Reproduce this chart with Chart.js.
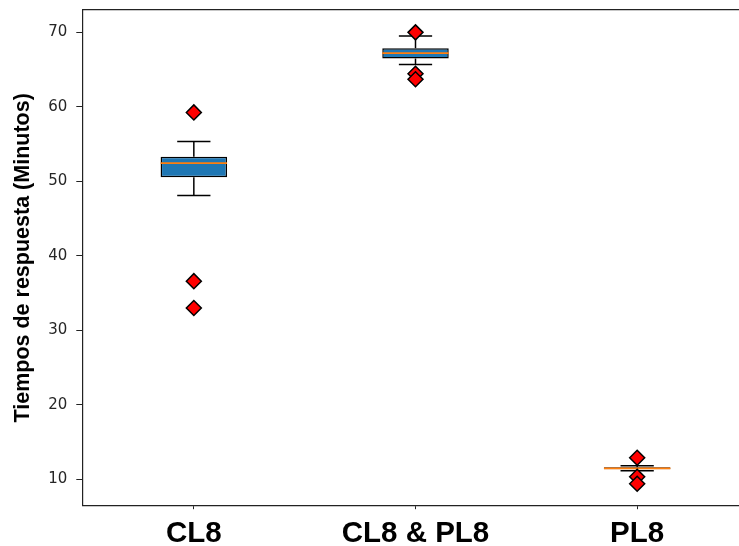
<!DOCTYPE html>
<html>
<head>
<meta charset="utf-8">
<script src="https://cdn.jsdelivr.net/npm/chart.js@4.4.0/dist/chart.umd.min.js"></script>
<style>
  html, body { margin: 0; padding: 0; overflow: hidden; background: #fff; }
  canvas { display: block; }
</style>
</head>
<body>
<canvas id="chart" width="760" height="546"></canvas>
<script>
// Response times per configuration (minutes)
const groups = ['CL8', 'CL8 & PL8', 'PL8'];
const positions = [1, 2, 3];
const whiskerLow = [48.1, 65.7, 11.15];
const quartile1 = [50.55, 66.5, 11.35];
const medians = [52.45, 67.2, 11.48];
const quartile3 = [53.3, 67.85, 11.62];
const whiskerHigh = [55.35, 69.5, 11.82];
const outliers = [
  [59.25, 36.6, 33.0],
  [70.0, 64.45, 63.7],
  [12.9, 10.35, 9.4]
];
const yTicks = [10, 20, 30, 40, 50, 60, 70];

const BOX_HALF = 0.15;   // half box width, in x units
const CAP_HALF = 0.075;  // half whisker-cap width, in x units
const GAP = { x: NaN, y: null };

const boxData = positions.map((p, i) => ({ x: p, y: [quartile1[i], quartile3[i]] }));

const whiskerData = [];
const capData = [];
const medianData = [];
positions.forEach((p, i) => {
  whiskerData.push({ x: p, y: quartile1[i] }, { x: p, y: whiskerLow[i] }, GAP,
                   { x: p, y: quartile3[i] }, { x: p, y: whiskerHigh[i] }, GAP);
  capData.push({ x: p - CAP_HALF, y: whiskerLow[i] }, { x: p + CAP_HALF, y: whiskerLow[i] }, GAP,
               { x: p - CAP_HALF, y: whiskerHigh[i] }, { x: p + CAP_HALF, y: whiskerHigh[i] }, GAP);
  medianData.push({ x: p - BOX_HALF, y: medians[i] }, { x: p + BOX_HALF, y: medians[i] }, GAP);
});

const outlierData = [];
positions.forEach((p, i) => outliers[i].forEach(v => outlierData.push({ x: p, y: v })));

const lineStyle = {
  type: 'line',
  showLine: true,
  pointRadius: 0,
  fill: false,
  tension: 0,
  spanGaps: false,
  borderColor: '#000',
  borderWidth: 1.5,
  borderCapStyle: 'butt'
};

const noEdgePadding = s => { s.paddingTop = 0; s.paddingBottom = 0; s.paddingLeft = 0; s.paddingRight = 0; };

new Chart(document.getElementById('chart'), {
  type: 'bar',
  data: {
    datasets: [
      {
        type: 'scatter',
        data: outlierData,
        pointStyle: 'rectRot',
        pointRadius: 7.5,
        backgroundColor: '#ff0000',
        borderColor: '#000',
        borderWidth: 1.5,
        order: 0
      },
      Object.assign({}, lineStyle, { data: capData, order: 1 }),
      Object.assign({}, lineStyle, { data: medianData, borderColor: '#ff7f0e', borderWidth: 1.8, order: 2 }),
      Object.assign({}, lineStyle, { data: whiskerData, order: 3 }),
      {
        type: 'bar',
        data: boxData,
        backgroundColor: '#1f77b4',
        borderColor: '#000',
        borderWidth: 1.5,
        borderSkipped: false,
        barPercentage: 0.3,
        categoryPercentage: 1,
        order: 4
      }
    ]
  },
  options: {
    responsive: false,
    animation: false,
    events: [],
    layout: { padding: { top: 10, right: 12, left: 0, bottom: 0 } },
    plugins: { legend: { display: false }, tooltip: { enabled: false } },
    scales: {
      x: {
        type: 'linear',
        position: 'bottom',
        min: 0.5,
        max: 3.5,
        offset: false,
        afterBuildTicks: s => { s.ticks = positions.map(v => ({ value: v })); },
        afterFit: s => { s.height = 40.3; noEdgePadding(s); },
        ticks: {
          callback: (v, i) => groups[i],
          font: { family: 'Liberation Sans', weight: 'bold', size: 29.5 },
          color: '#000',
          padding: 6.6,
          maxRotation: 0,
          autoSkip: false
        },
        grid: { offset: false, drawOnChartArea: false, tickLength: 3.5, tickColor: '#222', tickWidth: 1 },
        border: { color: '#222', width: 1.2 }
      },
      xTop: {
        type: 'linear',
        position: 'top',
        min: 0.5,
        max: 3.5,
        afterFit: s => { s.height = 0; noEdgePadding(s); },
        ticks: { display: false },
        grid: { offset: false, drawOnChartArea: false, drawTicks: false },
        border: { color: '#222', width: 1.2 }
      },
      y: {
        type: 'linear',
        position: 'left',
        min: 6.46,
        max: 73.0,
        afterBuildTicks: s => { s.ticks = yTicks.map(v => ({ value: v })); },
        afterFit: s => { s.width = 83; noEdgePadding(s); },
        ticks: {
          font: { family: 'DejaVu Sans', size: 15 },
          color: '#262626',
          padding: 9
        },
        grid: { drawOnChartArea: false, tickLength: 6.7, tickColor: '#222', tickWidth: 1 },
        border: { color: '#222', width: 1.2 },
        title: {
          display: true,
          text: 'Tiempos de respuesta (Minutos)',
          font: { family: 'Liberation Sans', weight: 'bold', size: 21.5 },
          color: '#000',
          padding: { top: 10, bottom: 0 }
        }
      },
      yRight: {
        type: 'linear',
        position: 'right',
        min: 6.46,
        max: 73.0,
        afterFit: s => { s.width = 0; noEdgePadding(s); },
        ticks: { display: false },
        grid: { drawOnChartArea: false, drawTicks: false },
        border: { color: '#222', width: 1.2 }
      }
    }
  }
});
</script>
</body>
</html>
